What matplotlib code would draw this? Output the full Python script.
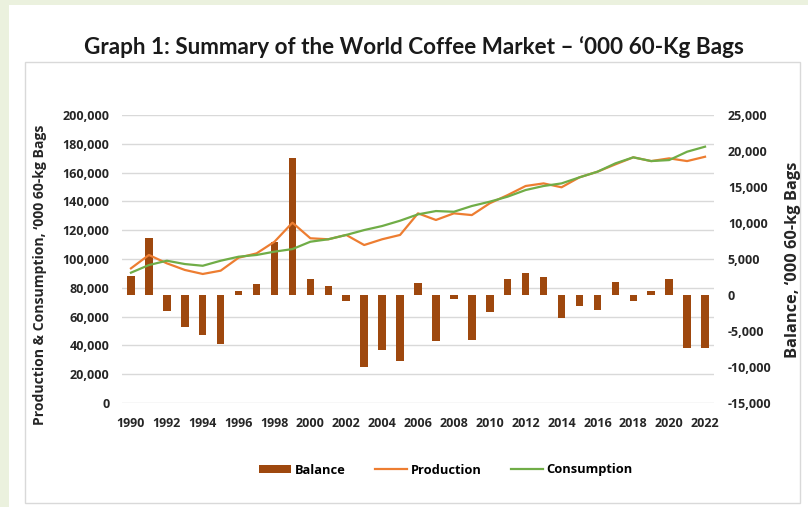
import matplotlib
matplotlib.use('Agg')
import matplotlib.pyplot as plt
from matplotlib.patches import Rectangle
from matplotlib.ticker import FuncFormatter, MultipleLocator
import numpy as np

plt.rcParams['font.family'] = ['Open Sans', 'DejaVu Sans']
plt.rcParams['font.weight'] = 'bold'

# Data ('000 60-kg bags)
years = list(range(1990, 2023))
production = [93500, 102800, 97000, 92400, 89600, 91900, 100900, 103900, 112000, 125200,
              114400, 113700, 116700, 109700, 113700, 116700, 131700, 127100, 131700, 130500,
              138700, 144400, 150700, 152500, 149800, 156700, 160600, 165700, 170600, 168000,
              169900, 168000, 171000]
consumption = [90500, 95800, 98800, 96500, 95300, 98800, 101600, 102800, 105100, 106900,
               112000, 113700, 116700, 120100, 122900, 126600, 131000, 133300, 132800, 136800,
               139800, 143300, 147900, 150700, 152500, 156700, 160600, 166400, 170600, 168000,
               168700, 174500, 178000]
balance = [2700, 7900, -2200, -4400, -5600, -6800, 500, 1500, 7400, 19000,
           2200, 1200, -800, -10000, -7700, -9200, 1700, -6400, -500, -6200,
           -2300, 2200, 3100, 2500, -3200, -1500, -2100, 1800, -900, 600,
           2200, -7300, -7400]

bar_col = '#9E480E'
prod_col = '#ED7D31'
cons_col = '#70AD47'
grid_col = '#D9D9D9'
txt_col = '#262626'

fig = plt.figure(figsize=(8.08, 5.07), dpi=100)
fig.patch.set_facecolor('#EBF1DE')
W, H = 808, 507

# white panel and inner chart frame (behind the axes)
fig.patches.append(Rectangle((9 / W, 0), 1, 1 - 5 / H, transform=fig.transFigure,
                             facecolor='white', edgecolor='none', zorder=-10))
fig.patches.append(Rectangle((25 / W, 4 / H), 775 / W, (503 - 62) / H, transform=fig.transFigure,
                             facecolor='white', edgecolor='#D9D9D9', linewidth=1, zorder=-9))

fig.text(414 / W, 1 - 47 / H, "Graph 1: Summary of the World Coffee Market \u2013 \u2018000 60-Kg Bags",
         ha='center', va='center', fontsize=16.2, fontweight='bold', color='#1a1a1a',
         family=['Lato', 'DejaVu Sans'])

rect = [122 / W, 1 - 403 / H, (714 - 122) / W, (403 - 115) / H]
ax = fig.add_axes(rect)
ax2 = ax.twinx()
ax3 = ax.twinx()

x = np.arange(len(years))
tick_fs = 9

# left axis: gridlines and ticks
ax.set_ylim(0, 200000)
ax.yaxis.set_major_locator(MultipleLocator(20000))
ax.yaxis.set_major_formatter(FuncFormatter(lambda v, p: f'{int(v):,}'))
ax.grid(axis='y', color=grid_col, linewidth=1)
ax.set_axisbelow(True)
ax.set_xlim(-0.5, len(years) - 0.5)
ax.set_xticks(x[::2])
ax.set_xticklabels([str(y) for y in years[::2]])
ax.tick_params(axis='both', length=0, labelsize=tick_fs, labelcolor=txt_col)
ax.tick_params(axis='x', pad=10)
ax.tick_params(axis='y', pad=9)
ax.set_ylabel("Production & Consumption, \u2018000 60-kg Bags", fontsize=10.1, color=txt_col,
              fontweight='bold')
ax.yaxis.set_label_coords(-0.127, 0.446)

# right axis: balance bars
bars = ax2.bar(x, balance, width=0.42, color=bar_col, label='Balance')
ax2.set_ylim(-15000, 25000)
ax2.yaxis.set_major_locator(MultipleLocator(5000))
ax2.yaxis.set_major_formatter(FuncFormatter(lambda v, p: f'{int(v):,}'))
ax2.tick_params(axis='y', length=0, labelsize=tick_fs, labelcolor=txt_col, pad=10)
ax2.set_ylabel("Balance, \u2018000 60-kg Bags", fontsize=11.8, color=txt_col,
               fontweight='bold', rotation=90)
ax2.yaxis.set_label_coords(1.12, 0.497)

# lines on top, on left scale
lp, = ax3.plot(x, production, color=prod_col, linewidth=1.6, label='Production')
lc, = ax3.plot(x, consumption, color=cons_col, linewidth=1.6, label='Consumption')
ax3.set_ylim(0, 200000)
ax3.set_yticks([])

for a in (ax, ax2, ax3):
    for s in a.spines.values():
        s.set_visible(False)
    a.patch.set_visible(False)

fig.legend([bars, lp, lc], ['Balance', 'Production', 'Consumption'],
           loc='center', bbox_to_anchor=(446 / W, 1 - 470 / H), ncol=3, frameon=False,
           fontsize=9.3, handlelength=2.5, handletextpad=0.25, columnspacing=2.3,
           handleheight=0.6)

plt.savefig('out.png', dpi=100, facecolor=fig.get_facecolor())
